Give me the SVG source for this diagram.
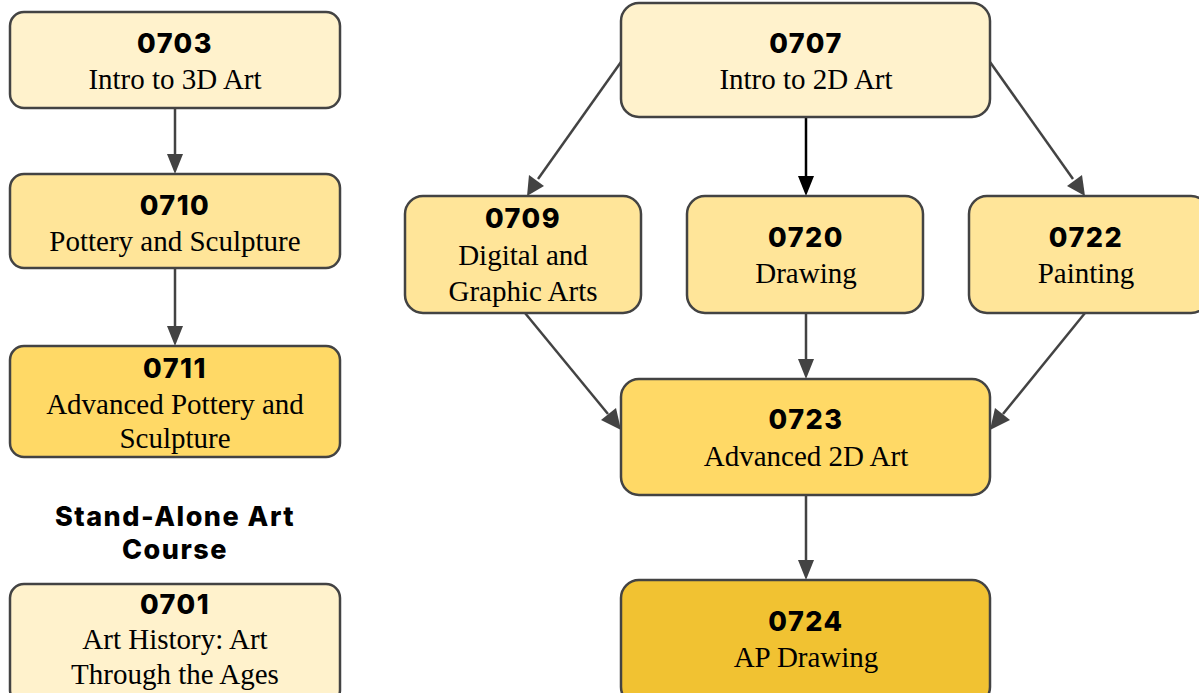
<svg xmlns="http://www.w3.org/2000/svg" width="1199" height="693" viewBox="0 0 1199 693">
<style>
.box{stroke:#434343;stroke-width:2.5}
.c1{fill:#FFF2CC}.c2{fill:#FFE599}.c3{fill:#FFD966}.c4{fill:#F1C232}
.code{font-family:Inter,"Open Sans",sans-serif;font-weight:800;font-size:27px;letter-spacing:1.5px;fill:#000;text-anchor:middle}
.lbl{font-family:"Liberation Serif",serif;font-size:29px;fill:#000;text-anchor:middle}
.edge{stroke:#434343;stroke-width:2.5;fill:none}
.ah{fill:#434343}
</style>
<rect width="1199" height="693" fill="#fff"/>
<g id="connectors">
<path d="M175,108 L175,156" class="edge"/>
<path d="M167,154 L183,154 L175,174 z" class="ah"/>
<path d="M175,268 L175,328" class="edge"/>
<path d="M167,326 L183,326 L175,346 z" class="ah"/>
<path d="M621,62 L538,179" class="edge"/>
<path d="M529,175 L544,186 L527,196 z" class="ah"/>
<path d="M806,117 L806,178" stroke="#000" stroke-width="2.5" fill="none"/>
<path d="M798,176 L814,176 L806,196 z" fill="#000"/>
<path d="M990,62 L1073,179" class="edge"/>
<path d="M1067,186 L1082,175 L1085,196 z" class="ah"/>
<path d="M525,313 L608,414" class="edge"/>
<path d="M601,420 L616,408 L621,430 z" class="ah"/>
<path d="M806,313 L806,361" class="edge"/>
<path d="M798,359 L814,359 L806,379 z" class="ah"/>
<path d="M1085,313 L1003,414" class="edge"/>
<path d="M995,408 L1010,420 L990,430 z" class="ah"/>
<path d="M806,495 L806,562" class="edge"/>
<path d="M798,560 L814,560 L806,580 z" class="ah"/>
</g>
<g id="n0703"><rect class="box c1" x="10" y="12" width="330" height="96" rx="14"/>
<text class="code" x="175" y="53">0703</text><text class="lbl" x="175" y="89">Intro to 3D Art</text></g>
<g id="n0710"><rect class="box c2" x="10" y="174" width="330" height="94" rx="14"/>
<text class="code" x="175" y="215">0710</text><text class="lbl" x="175" y="251">Pottery and Sculpture</text></g>
<g id="n0711"><rect class="box c3" x="10" y="346" width="330" height="111" rx="14"/>
<text class="code" x="175" y="378">0711</text><text class="lbl" x="175" y="414">Advanced Pottery and</text><text class="lbl" x="175" y="448">Sculpture</text></g>
<g id="standalone-title"><text class="code" x="175" y="526">Stand-Alone Art</text><text class="code" x="175" y="559">Course</text></g>
<g id="n0701"><rect class="box c1" x="10" y="584" width="330" height="120" rx="14"/>
<text class="code" x="175" y="614">0701</text><text class="lbl" x="175" y="649">Art History: Art</text><text class="lbl" x="175" y="684">Through the Ages</text></g>
<g id="n0707"><rect class="box c1" x="621" y="3" width="369" height="114" rx="18"/>
<text class="code" x="806" y="53">0707</text><text class="lbl" x="806" y="89">Intro to 2D Art</text></g>
<g id="n0709"><rect class="box c2" x="405" y="196" width="236" height="117" rx="18"/>
<text class="code" x="523" y="228">0709</text><text class="lbl" x="523" y="265">Digital and</text><text class="lbl" x="523" y="301">Graphic Arts</text></g>
<g id="n0720"><rect class="box c2" x="687" y="196" width="236" height="117" rx="18"/>
<text class="code" x="806" y="247">0720</text><text class="lbl" x="806" y="283">Drawing</text></g>
<g id="n0722"><rect class="box c2" x="969" y="196" width="240" height="117" rx="18"/>
<text class="code" x="1086" y="247">0722</text><text class="lbl" x="1086" y="283">Painting</text></g>
<g id="n0723"><rect class="box c3" x="621" y="379" width="369" height="116" rx="18"/>
<text class="code" x="806" y="429">0723</text><text class="lbl" x="806" y="466">Advanced 2D Art</text></g>
<g id="n0724"><rect class="box c4" x="621" y="580" width="369" height="125" rx="18"/>
<text class="code" x="806" y="631">0724</text><text class="lbl" x="806" y="667">AP Drawing</text></g>
</svg>
